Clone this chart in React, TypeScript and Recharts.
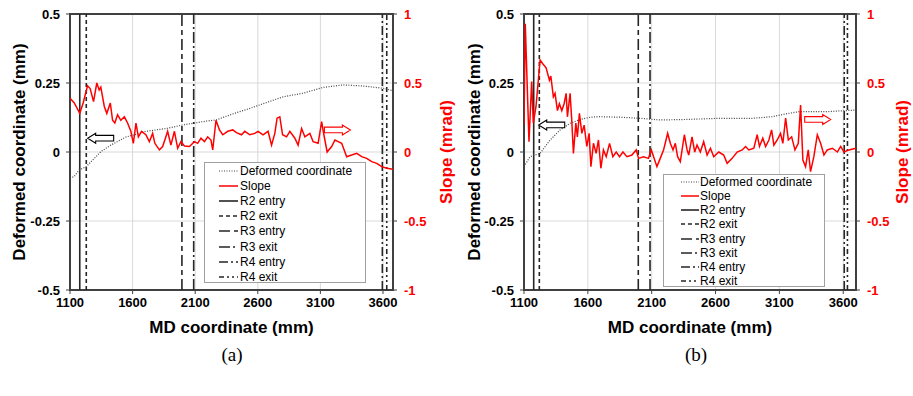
import React from 'react';
import {
  LineChart, Line, XAxis, YAxis, CartesianGrid, ReferenceLine, ReferenceArea,
  ReferenceDot, Legend, Label,
} from 'recharts';

// ---------- ticks ----------
const X_TICKS = [1100, 1600, 2100, 2600, 3100, 3600];
const LEFT_TICKS = [-0.5, -0.25, 0, 0.25, 0.5];
const RIGHT_TICKS = [-1, -0.5, 0, 0.5, 1];

// ---------- panel (a) ----------
const SLOPE_A_X = [1100, 1134, 1178, 1205, 1240, 1261, 1288, 1314, 1333, 1346, 1374, 1394, 1422, 1440, 1458, 1480, 1506, 1534, 1560, 1586, 1606, 1627, 1646, 1672, 1706, 1734, 1760, 1778, 1814, 1840, 1866, 1880, 1906, 1934, 1960, 1986, 2014, 2054, 2094, 2120, 2146, 2174, 2200, 2226, 2240, 2266, 2294, 2320, 2360, 2400, 2430, 2470, 2496, 2536, 2576, 2602, 2642, 2682, 2710, 2736, 2754, 2776, 2798, 2830, 2856, 2896, 2922, 2950, 2976, 3016, 3042, 3082, 3110, 3128, 3154, 3190, 3216, 3242, 3270, 3310, 3350, 3390, 3430, 3470, 3510, 3550, 3590, 3630, 3680];
const SLOPE_A = [0.39, 0.355, 0.28, 0.355, 0.48, 0.46, 0.365, 0.5, 0.45, 0.47, 0.33, 0.28, 0.355, 0.23, 0.21, 0.27, 0.23, 0.255, 0.21, 0.15, 0.063, 0.21, 0.11, 0.15, 0.125, 0.075, 0.135, 0.063, 0.015, 0.04, 0.11, 0.15, 0.05, 0.15, 0.027, 0.075, 0.043, 0.04, 0.075, 0.063, 0.1, 0.075, 0.11, 0.087, 0.015, 0.23, 0.16, 0.125, 0.15, 0.16, 0.14, 0.125, 0.15, 0.125, 0.135, 0.15, 0.125, 0.15, 0.05, 0.135, 0.245, 0.255, 0.125, 0.11, 0.15, 0.1, 0.05, 0.17, 0.11, 0.135, 0.075, 0.063, 0.22, 0.125, 0.0, 0.04, 0.087, 0.075, 0.063, -0.034, -0.022, -0.01, -0.034, -0.046, -0.07, -0.082, -0.106, -0.118, -0.125];
const DEFORM_A_X = [1100, 1133, 1174, 1230, 1346, 1426, 1550, 1613, 1693, 1880, 2000, 2190, 2266, 2413, 2536, 2802, 2962, 3122, 3282, 3442, 3602, 3680];
const DEFORM_A = [-0.095, -0.089, -0.065, -0.053, 0.001, 0.025, 0.055, 0.062, 0.074, 0.086, 0.098, 0.112, 0.116, 0.14, 0.158, 0.2, 0.213, 0.234, 0.243, 0.239, 0.231, 0.222];
const REGIONS_A = [1178, 1230, 1994, 2088, 3595, 3630];

// ---------- panel (b) ----------
const SLOPE_B_X = [1100, 1110, 1139, 1160, 1173, 1194, 1226, 1247, 1273, 1299, 1310, 1330, 1343, 1362, 1377, 1396, 1414, 1430, 1440, 1461, 1474, 1487, 1506, 1518, 1534, 1553, 1571, 1592, 1610, 1624, 1644, 1665, 1683, 1702, 1722, 1744, 1770, 1796, 1822, 1848, 1875, 1906, 1945, 1979, 1997, 2036, 2075, 2097, 2115, 2141, 2167, 2193, 2225, 2246, 2267, 2285, 2303, 2324, 2356, 2377, 2390, 2416, 2437, 2455, 2481, 2507, 2534, 2560, 2586, 2625, 2664, 2691, 2730, 2769, 2809, 2835, 2861, 2900, 2926, 2944, 2970, 2992, 3018, 3039, 3057, 3083, 3109, 3127, 3149, 3170, 3196, 3222, 3248, 3266, 3284, 3305, 3326, 3344, 3370, 3397, 3423, 3449, 3475, 3515, 3554, 3580, 3606, 3645, 3700];
const SLOPE_B = [0.2, 0.93, 0.075, 0.51, 0.21, 0.33, 0.667, 0.64, 0.61, 0.52, 0.55, 0.4, 0.425, 0.3, 0.35, 0.3, 0.35, 0.425, 0.255, 0.425, 0.23, -0.01, 0.21, 0.11, 0.28, 0.135, 0.195, 0.04, 0.135, -0.106, 0.063, -0.01, 0.087, -0.118, 0.015, -0.034, 0.063, -0.034, 0.0, -0.034, 0.0, -0.034, -0.022, 0.015, -0.046, -0.034, -0.046, 0.015, -0.034, -0.106, -0.046, 0.015, 0.135, 0.063, 0.015, 0.063, -0.034, -0.07, 0.125, 0.015, -0.022, 0.11, 0.0, 0.05, 0.0, 0.075, -0.022, 0.027, -0.034, 0.0, -0.022, -0.082, -0.046, 0.0, 0.015, 0.04, 0.015, 0.027, 0.125, 0.04, 0.1, 0.04, 0.087, 0.16, 0.05, 0.087, 0.135, 0.063, 0.245, 0.087, 0.11, 0.015, 0.063, 0.34, -0.058, -0.106, 0.015, -0.142, -0.034, 0.125, 0.063, -0.022, 0.015, 0.027, 0.0, 0.04, 0.0, 0.015, 0.027];
const DEFORM_B_X = [1100, 1147, 1226, 1304, 1383, 1461, 1540, 1618, 1697, 1854, 2010, 2167, 2377, 2625, 2887, 3044, 3149, 3253, 3463, 3700];
const DEFORM_B = [-0.053, -0.017, -0.005, 0.043, 0.08, 0.104, 0.118, 0.126, 0.128, 0.126, 0.122, 0.116, 0.118, 0.122, 0.122, 0.128, 0.138, 0.146, 0.146, 0.152];
const REGIONS_B = [1176, 1220, 1995, 2087, 3608, 3633];

const REGION_NAMES = ['R2 entry', 'R2 exit', 'R3 entry', 'R3 exit', 'R4 entry', 'R4 exit'];
const REGION_DASH = [undefined, '4 3', '11 4 5 4', '11 3 2 3', '9 3 2 3', '5 3 2 3 2 3'];

const FONT = '"Liberation Sans", Arial, Helvetica, sans-serif';
const RED = '#ff0000';
const DARK = '#262626';

const zip = (xs: number[], vs: number[]) => xs.map((x, i) => ({ x, v: vs[i] }));

const legendItems = [
  { label: 'Deformed coordinate', stroke: '#444', dash: '1 1.5', w: 1.2 },
  { label: 'Slope', stroke: RED, dash: undefined as string | undefined, w: 1.5 },
  ...REGION_NAMES.map((n, i) => ({ label: n, stroke: DARK, dash: REGION_DASH[i], w: 1.6 })),
];

type Box = { left: number; top: number; width: number; height: number; rowTop: number; rowH: number; lineX0: number; lineX1: number; textX: number };

function LegendBox({ box }: { box: Box }) {
  return (
    <div style={{ position: 'relative', width: box.width, height: box.height, border: '1px solid #a0a0a0', boxSizing: 'border-box', background: '#fff', fontFamily: FONT, fontSize: 12, color: '#000' }}>
      {legendItems.map((it, i) => (
        <div key={it.label} style={{ position: 'absolute', left: 0, top: box.rowTop + i * box.rowH - 7, height: 14, width: box.width - 2 }}>
          <svg width={box.lineX1 + 2} height={14} style={{ position: 'absolute', left: 0, top: 0 }}>
            <line x1={box.lineX0} x2={box.lineX1} y1={7} y2={7} stroke={it.stroke} strokeWidth={it.w} strokeDasharray={it.dash} />
          </svg>
          <span style={{ position: 'absolute', left: box.textX, top: 0, lineHeight: '14px', whiteSpace: 'nowrap' }}>{it.label}</span>
        </div>
      ))}
    </div>
  );
}

function arrowPoints(cx: number, cy: number, dir: number) {
  const w = 26, hl = 8, hh = 5, sh = 2.8;
  const tip = cx + (dir * w) / 2;
  const base = tip - dir * hl;
  const tail = cx - (dir * w) / 2;
  return [
    [tip, cy], [base, cy - hh], [base, cy - sh], [tail, cy - sh], [tail, cy + sh], [base, cy + sh], [base, cy + hh],
  ].map((p) => p.join(',')).join(' ');
}

const makeArrow = (dir: number, color: string) => (p: any) => (
  <polygon points={arrowPoints(p.cx, p.cy, dir)} fill="#fff" stroke={color} strokeWidth={1.1} />
);

type PanelCfg = {
  left: number;
  xMax: number;
  leftAxisW: number;
  rightMargin: number;
  slope: { x: number; v: number }[];
  deform: { x: number; v: number }[];
  regions: number[];
  leftArrow: { x: number; y: number };
  rightArrow: { x: number; y: number };
  legend: Box;
  leftLabelX: number;
  rightLabelX: number;
  caption: string;
};

const W = 456, H = 340;

function Panel({ c }: { c: PanelCfg }) {
  const tickStyle = { fill: '#000', fontSize: 13, fontWeight: 700, fontFamily: FONT };
  return (
    <div style={{ position: 'absolute', left: c.left, top: 0, width: W, height: H }}>
      <LineChart width={W} height={H} margin={{ top: 14, right: c.rightMargin, bottom: 0, left: 0 }}>
        <CartesianGrid yAxisId="left" stroke="#d9d9d9" strokeWidth={1} />
        <XAxis dataKey="x" type="number" domain={[1100, c.xMax]} ticks={X_TICKS} allowDataOverflow
          axisLine={false} tickLine={{ stroke: '#404040' }} tickSize={4} tickMargin={4} height={50}
          tick={tickStyle} interval={0}>
          <Label content={(p: any) => {
            const vb = p.viewBox || {};
            return <text x={vb.x + vb.width / 2} y={vb.y + 37} textAnchor="middle" dominantBaseline="central"
              fontFamily={FONT} fontSize={17} fontWeight={700} fill="#000">MD coordinate (mm)</text>;
          }} />
        </XAxis>
        <YAxis yAxisId="left" orientation="left" type="number" domain={[-0.5, 0.5]} ticks={LEFT_TICKS}
          allowDataOverflow width={c.leftAxisW} axisLine={false} tickLine={{ stroke: '#404040' }} tickSize={4} tickMargin={6}
          tick={tickStyle} interval={0} tickFormatter={(v: number) => String(v)}>
          <Label content={(p: any) => {
            const vb = p.viewBox || {};
            const cx = vb.x + c.leftLabelX, cy = vb.y + vb.height / 2;
            return <text x={cx} y={cy} transform={`rotate(-90 ${cx} ${cy})`} textAnchor="middle" dominantBaseline="central"
              fontFamily={FONT} fontSize={17} fontWeight={700} fill="#000">Deformed coordinate (mm)</text>;
          }} />
        </YAxis>
        <YAxis yAxisId="right" orientation="right" type="number" domain={[-1, 1]} ticks={RIGHT_TICKS}
          allowDataOverflow width={50} axisLine={false} tickLine={{ stroke: '#404040' }} tickSize={4} tickMargin={7}
          tick={{ ...tickStyle, fill: RED }} interval={0} tickFormatter={(v: number) => String(v)}>
          <Label content={(p: any) => {
            const vb = p.viewBox || {};
            const cx = vb.x + c.rightLabelX, cy = vb.y + vb.height / 2;
            return <text x={cx} y={cy} transform={`rotate(-90 ${cx} ${cy})`} textAnchor="middle" dominantBaseline="central"
              fontFamily={FONT} fontSize={17} fontWeight={700} fill={RED}>Slope (mrad)</text>;
          }} />
        </YAxis>
        {c.regions.map((x, i) => (
          <ReferenceLine key={REGION_NAMES[i]} yAxisId="left" x={x} stroke={DARK} strokeWidth={1.6} strokeDasharray={REGION_DASH[i]} />
        ))}
        <Line yAxisId="left" data={c.deform} dataKey="v" name="Deformed coordinate" stroke="#444" strokeWidth={1.2}
          strokeDasharray="1 1.5" dot={false} activeDot={false} isAnimationActive={false} type="linear" />
        <Line yAxisId="right" data={c.slope} dataKey="v" name="Slope" stroke={RED} strokeWidth={1.5}
          dot={false} activeDot={false} isAnimationActive={false} type="linear" />
        <ReferenceDot yAxisId="left" x={c.leftArrow.x} y={c.leftArrow.y} r={0} shape={makeArrow(-1, '#000')} />
        <ReferenceDot yAxisId="left" x={c.rightArrow.x} y={c.rightArrow.y} r={0} shape={makeArrow(1, RED)} />
        <ReferenceArea yAxisId="left" x1={1100} x2={c.xMax} y1={-0.5} y2={0.5} fill="none" fillOpacity={0}
          stroke="#404040" strokeWidth={2} ifOverflow="visible" />
        <Legend layout="horizontal" verticalAlign="middle" align="center"
          wrapperStyle={{ left: c.legend.left, top: c.legend.top, width: c.legend.width, height: c.legend.height, right: 'auto', bottom: 'auto', margin: 0 }}
          content={() => <LegendBox box={c.legend} />} />
      </LineChart>
    </div>
  );
}

const PANEL_A: PanelCfg = {
  left: 0,
  xMax: 3680,
  leftAxisW: 70,
  rightMargin: 13,
  slope: zip(SLOPE_A_X, SLOPE_A),
  deform: zip(DEFORM_A_X, DEFORM_A),
  regions: REGIONS_A,
  leftArrow: { x: 1345, y: 0.05 },
  rightArrow: { x: 3236, y: 0.08 },
  legend: { left: 204, top: 162, width: 162, height: 121, rowTop: 7.5, rowH: 15.2, lineX0: 14, lineX1: 33, textX: 35 },
  leftLabelX: 19,
  rightLabelX: 53,
  caption: '(a)',
};

const PANEL_B: PanelCfg = {
  left: 457,
  xMax: 3700,
  leftAxisW: 67,
  rightMargin: 7,
  slope: zip(SLOPE_B_X, SLOPE_B),
  deform: zip(DEFORM_B_X, DEFORM_B),
  regions: REGIONS_B,
  leftArrow: { x: 1317, y: 0.098 },
  rightArrow: { x: 3400, y: 0.118 },
  legend: { left: 206, top: 174, width: 162, height: 113, rowTop: 7, rowH: 14.15, lineX0: 17, lineX1: 35, textX: 36 },
  leftLabelX: 17,
  rightLabelX: 46,
  caption: '(b)',
};

export default function App() {
  return (
    <div style={{ position: 'absolute', left: 0, top: 0, width: 913, height: 396, background: '#fff', overflow: 'hidden' }}>
      <Panel c={PANEL_A} />
      <Panel c={PANEL_B} />
      <div style={{ position: 'absolute', left: 212, top: 344, width: 40, textAlign: 'center', fontFamily: '"Liberation Serif", "Times New Roman", serif', fontSize: 19, color: '#000' }}>{PANEL_A.caption}</div>
      <div style={{ position: 'absolute', left: 676, top: 344, width: 40, textAlign: 'center', fontFamily: '"Liberation Serif", "Times New Roman", serif', fontSize: 19, color: '#000' }}>{PANEL_B.caption}</div>
    </div>
  );
}
